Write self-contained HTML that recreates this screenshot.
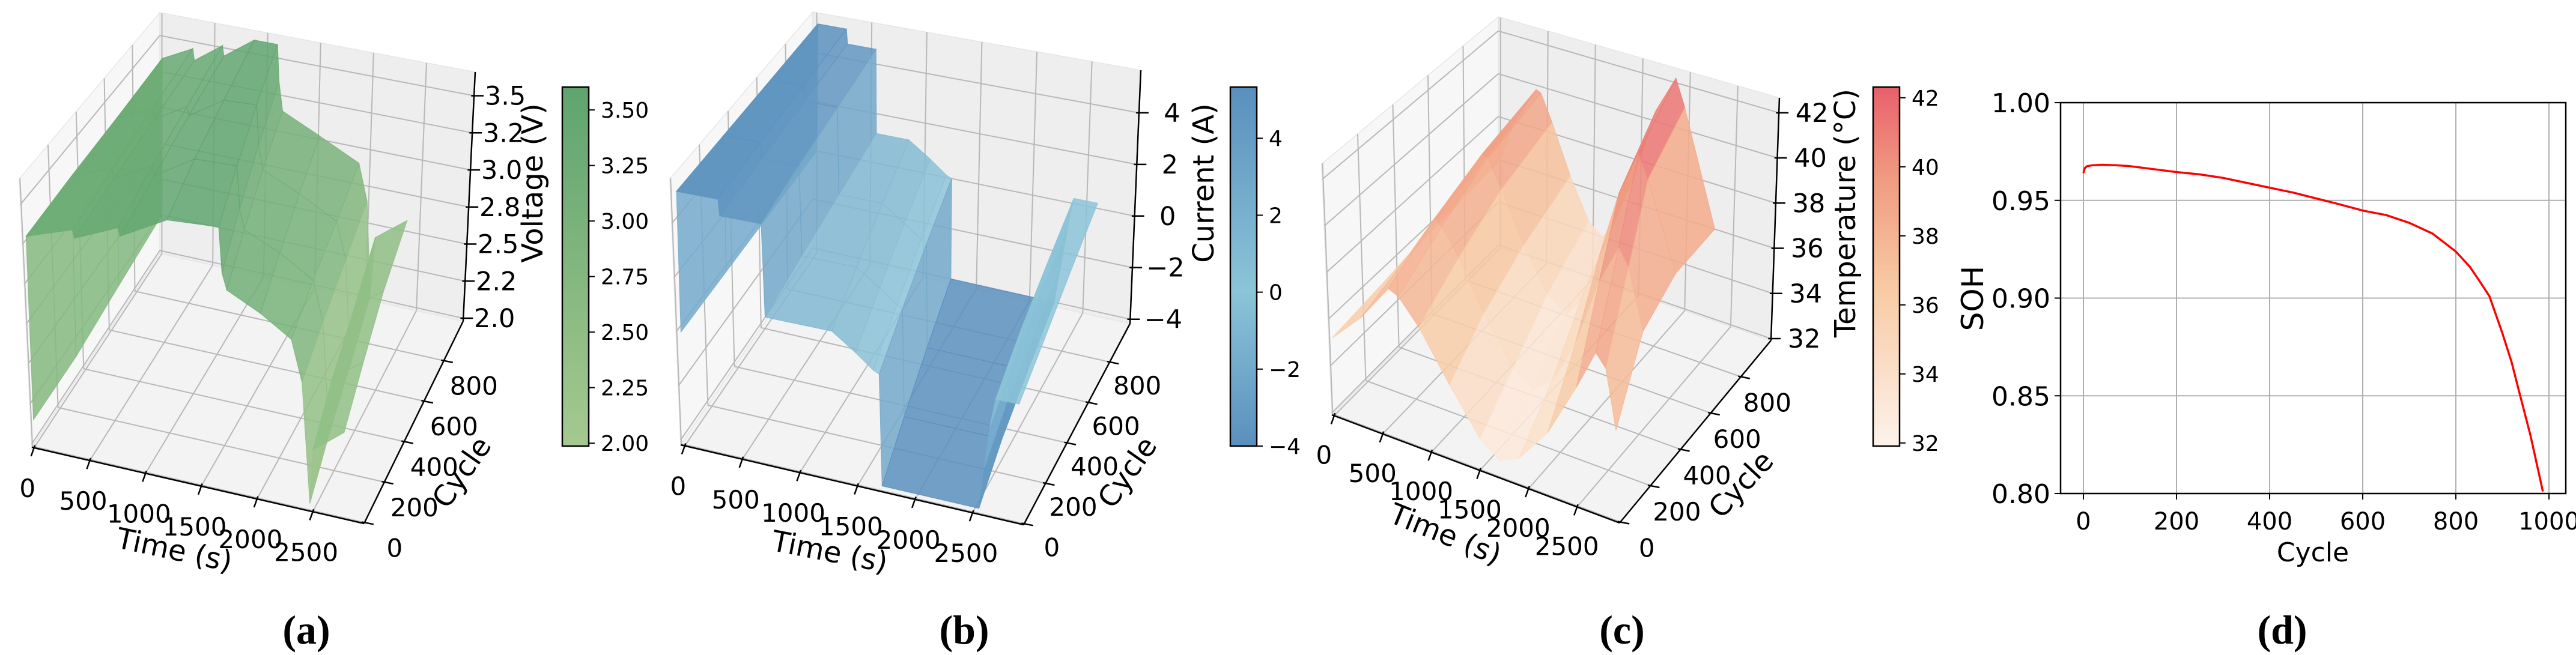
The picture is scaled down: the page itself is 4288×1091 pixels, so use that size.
<!DOCTYPE html>
<html><head><meta charset="utf-8"><title>Battery cycling data: voltage, current, temperature and SOH</title>
<style>
html,body{margin:0;padding:0;background:#fff;}
svg{display:block;}
text{font-family:"DejaVu Sans","Liberation Sans",sans-serif;fill:#000;}
.cap{font-family:"Liberation Serif",serif;font-weight:bold;}
</style></head>
<body>
<svg id="fig" xmlns="http://www.w3.org/2000/svg" width="4288" height="1091" viewBox="0 0 4288 1091">
<rect x="0" y="0" width="4288" height="1091" fill="#fff"/>
<defs>
<clipPath id="clipAB"><rect x="0" y="0" width="4288" height="964"/></clipPath>
</defs>
<g id="pa"></g>
<g id="pb"></g>
<g id="pc"></g>
<g id="pd"></g>
<text class="cap" x="510" y="1072" font-size="68" text-anchor="middle">(a)</text>
<text class="cap" x="1605" y="1072" font-size="68" text-anchor="middle">(b)</text>
<text class="cap" x="2700" y="1072" font-size="68" text-anchor="middle">(c)</text>
<text class="cap" x="3799" y="1072" font-size="68" text-anchor="middle">(d)</text>
</svg>
<script>
// ---------- data ----------
const cyclesA = [0, 330, 660, 990];
const timesA0 = [0,10,420,435,820,835,1250,1700,1720,1760,2050,2320,2410,2470,2500,2780];
const timesA1 = [0,10,380,395,740,755,1120,1500,1520,1560,1880,2180,2270,2330,2360,2640];
const timesA2 = [0,10,340,355,660,675,1000,1300,1320,1360,1700,2050,2140,2200,2230,2500];
const timesA3 = [0,10,300,315,580,595,880,1100,1120,1160,1520,1900,1990,2050,2080,2380];
const voltA0 = [2.15,3.30,3.40,3.35,3.47,3.42,3.58,3.60,3.32,3.22,3.12,3.00,2.75,2.02,2.35,2.50];
const voltA1 = [2.15,3.32,3.42,3.36,3.49,3.43,3.59,3.60,3.33,3.20,3.10,2.97,2.72,2.02,2.38,2.52];
const voltA2 = [2.20,3.33,3.44,3.37,3.50,3.44,3.59,3.60,3.34,3.18,3.07,2.94,2.70,2.02,2.40,2.55];
const voltA3 = [2.25,3.35,3.46,3.38,3.52,3.45,3.60,3.60,3.35,3.15,3.03,2.90,2.65,2.02,2.42,2.58];

const cyclesB = [0, 330, 660, 990];
const timesB0 = [0,10,360,370,720,730,1300,1500,1650,1700,1710,2550,2600,2650,2700,2900];
const timesB1 = [0,10,330,340,660,670,1150,1350,1500,1550,1560,2430,2480,2530,2580,2800];
const timesB2 = [0,10,300,310,600,610,1000,1200,1350,1400,1410,2330,2380,2430,2480,2700];
const timesB3 = [0,10,270,280,540,550,850,1050,1200,1250,1260,2230,2280,2330,2380,2600];
const currB0 = [0,5.2,5.2,4.6,4.6,1.2,1.2,0.6,0.1,0,-4.0,-4.0,-2.5,-1.0,0,0];
const currB1 = [0,5.2,5.2,4.6,4.6,1.2,1.2,0.6,0.1,0,-4.0,-4.0,-2.5,-1.0,0,0];
const currB2 = [0,5.2,5.2,4.6,4.6,1.2,1.2,0.6,0.1,0,-4.0,-4.0,-2.5,-1.0,0.1,0.1];
const currB3 = [0,5.2,5.2,4.6,4.6,1.2,1.2,0.6,0.1,0,-4.0,-4.0,-2.5,-1.0,0.2,0.2];

const cyclesC = [0, 330, 660, 1000];
const timesC0 = [0,300,600,700,900,1200,1500,1700,1900,2200,2500,2700,2800,2900];
const timesC1 = [0,250,500,580,750,1000,1300,1500,1700,1950,2200,2400,2500,2650];
const timesC2 = [0,200,420,480,620,850,1100,1300,1450,1650,1850,2050,2150,2450];
const timesC3 = [0,150,380,430,550,750,950,1100,1250,1450,1650,1850,1950,2300];
const tempC0 = [35.2,36.5,38.2,38.0,37.0,35.0,33.2,32.6,33.0,34.5,36.8,38.5,38.0,35.6];
const tempC1 = [35.5,37.0,38.8,38.6,37.5,35.4,33.5,32.9,33.5,35.5,38.5,40.2,39.5,37.0];
const tempC2 = [35.8,37.5,39.3,39.2,38.0,35.8,34.0,33.4,34.2,36.5,39.5,41.5,40.5,36.8];
const tempC3 = [36.0,38.0,39.8,39.7,38.5,36.3,34.5,34.0,35.0,37.5,40.5,42.2,41.0,36.0];

const timeTicks = [0,500,1000,1500,2000,2500];
const timeTickLabels = ['0','500','1000','1500','2000','2500'];
const cycleTicks = [0,200,400,600,800];
const cycleTickLabels = ['0','200','400','600','800'];
const voltTicks = [2.0,2.25,2.5,2.75,3.0,3.25,3.5];
const voltTickLabels = ['2.0','2.2','2.5','2.8','3.0','3.2','3.5'];
const voltCbTicks = [2.0,2.25,2.5,2.75,3.0,3.25,3.5];
const voltCbLabels = ['2.00','2.25','2.50','2.75','3.00','3.25','3.50'];
const currTicks = [-4,-2,0,2,4];
const currTickLabels = ['\u22124','\u22122','0','2','4'];
const tempTicks = [32,34,36,38,40,42];
const tempTickLabels = ['32','34','36','38','40','42'];

const sohCycles = [0,3,8,20,40,70,100,150,200,250,300,350,400,450,500,550,600,650,700,750,800,830,850,872,900,920,935,960,987];
const sohValues = [0.964,0.9665,0.9675,0.968,0.9682,0.968,0.9675,0.966,0.9645,0.9633,0.9615,0.959,0.9565,0.954,0.951,0.948,0.9448,0.9425,0.9385,0.933,0.9238,0.916,0.909,0.901,0.882,0.867,0.853,0.83,0.801];
const sohXTicks = [0,200,400,600,800,1000];
const sohYTicks = [0.80,0.85,0.90,0.95,1.00];
const sohYLabels = ['0.80','0.85','0.90','0.95','1.00'];

// ---------- helpers ----------
const NS='http://www.w3.org/2000/svg';
function mk(parent, tag, attrs, txt){
  const e=document.createElementNS(NS,tag);
  for(const k in attrs) e.setAttribute(k,attrs[k]);
  if(txt!==undefined) e.textContent=txt;
  parent.appendChild(e); return e;
}
function hex2rgb(h){return [parseInt(h.substr(1,2),16),parseInt(h.substr(3,2),16),parseInt(h.substr(5,2),16)];}
function cmapColor(stops,f){
  f=Math.max(0,Math.min(1,f));
  for(let i=0;i<stops.length-1;i++){
    const a=stops[i],b=stops[i+1];
    if(f<=b[0]){const k=(f-a[0])/(b[0]-a[0]||1);const ca=hex2rgb(a[1]),cb=hex2rgb(b[1]);
      return 'rgb('+ca.map((v,j)=>Math.round(v+(cb[j]-v)*k)).join(',')+')';}
  }
  return stops[stops.length-1][1];
}

function draw3D(cfg){
  const g=document.getElementById(cfg.id);
  const G=cfg.geom;
  const off=cfg.off;
  function proj(t,c,z){
    const u=(t-G.t0)/(G.t1-G.t0), w=(c-G.c0)/(G.c1-G.c0), h=(z-G.z0)/(G.z1-G.z0);
    const VB=[G.VA[0]+G.VC[0]-G.VD[0], G.VA[1]+G.VC[1]-G.VD[1]];
    const bl=(a,b,c2,d)=>[
      a[0]*(1-u)*(1-w)+b[0]*u*(1-w)+c2[0]*u*w+d[0]*(1-u)*w,
      a[1]*(1-u)*(1-w)+b[1]*u*(1-w)+c2[1]*u*w+d[1]*(1-u)*w];
    const f=bl(G.A,G.B,G.C,G.D), v=bl(G.VA,VB,G.VC,G.VD);
    return [off+f[0]+h*v[0], f[1]+h*v[1]];
  }
  const P=p=>p[0].toFixed(1)+','+p[1].toFixed(1);
  const floor=[proj(G.t0,G.c0,G.z0),proj(G.t1,G.c0,G.z0),proj(G.t1,G.c1,G.z0),proj(G.t0,G.c1,G.z0)];
  const back=[proj(G.t0,G.c1,G.z0),proj(G.t1,G.c1,G.z0),proj(G.t1,G.c1,G.z1),proj(G.t0,G.c1,G.z1)];
  const left=[proj(G.t0,G.c0,G.z0),proj(G.t0,G.c1,G.z0),proj(G.t0,G.c1,G.z1),proj(G.t0,G.c0,G.z1)];
  const pf=mk(g,'polygon',{points:floor.map(P).join(' '),fill:'#f3f3f3',stroke:'#e6e6e6','stroke-width':1.5});
  
  
  const pb=mk(g,'polygon',{points:back.map(P).join(' '),fill:'#eeeeee',stroke:'#e6e6e6','stroke-width':1.5});
  
  
  const pl=mk(g,'polygon',{points:left.map(P).join(' '),fill:'#f7f7f7',stroke:'#e6e6e6','stroke-width':1.5});
  
  
  const gl=(a,b)=>{const l=mk(g,'line',{x1:a[0],y1:a[1],x2:b[0],y2:b[1],stroke:'#b8b8b8','stroke-width':2});
    
    };
  timeTicks.forEach(t=>{gl(proj(t,G.c0,G.z0),proj(t,G.c1,G.z0));gl(proj(t,G.c1,G.z0),proj(t,G.c1,G.z1));});
  cycleTicks.forEach(c=>{gl(proj(G.t0,c,G.z0),proj(G.t1,c,G.z0));gl(proj(G.t0,c,G.z0),proj(G.t0,c,G.z1));});
  cfg.zTicks.forEach(z=>{gl(proj(G.t0,G.c1,z),proj(G.t1,G.c1,z));gl(proj(G.t0,G.c0,z),proj(G.t0,G.c1,z));});
  const rows=cfg.rows;
  for(let i=rows.length-2;i>=0;i--){
    const r0=rows[i],r1=rows[i+1];
    for(let j=0;j<r0.t.length-1;j++){
      const q=[proj(r0.t[j],r0.c,r0.v[j]),proj(r0.t[j+1],r0.c,r0.v[j+1]),proj(r1.t[j+1],r1.c,r1.v[j+1]),proj(r1.t[j],r1.c,r1.v[j])];
      const avg=(r0.v[j]+r0.v[j+1]+r1.v[j]+r1.v[j+1])/4;
      const col=cmapColor(cfg.cmap,(avg-cfg.cb.lo)/(cfg.cb.hi-cfg.cb.lo));
      const s=mk(g,'polygon',{points:q.map(P).join(' '),fill:col,stroke:col,'stroke-width':1.2,'fill-opacity':0.85,'stroke-opacity':0.85});
      
      
    }
  }
  const ax=(a,b,name)=>{const l=mk(g,'line',{x1:a[0],y1:a[1],x2:b[0],y2:b[1],stroke:'#000','stroke-width':2.5});
    
    };
  ax(proj(G.t0,G.c0,G.z0),proj(G.t1,G.c0,G.z0),'time-axis-line');
  ax(proj(G.t1,G.c0,G.z0),proj(G.t1,G.c1,G.z0),'cycle-axis-line');
  ax(proj(G.t1,G.c1,G.z0),proj(G.t1,G.c1,G.z1),'value-axis-line');
  const tk=(a,dx,dy)=>{const l=mk(g,'line',{x1:a[0]-dx*0.3,y1:a[1]-dy*0.3,x2:a[0]+dx,y2:a[1]+dy,stroke:'#000','stroke-width':2.5});
    
    };
  timeTicks.forEach((t,i)=>{const p=proj(t,G.c0,G.z0);tk(p,-5,14);
    const tx=mk(g,'text',{x:p[0]+cfg.tOff[0],y:p[1]+cfg.tOff[1],'font-size':42,'text-anchor':'middle'},timeTickLabels[i]);
    
    });
  cycleTicks.forEach((c,i)=>{const p=proj(G.t1,c,G.z0);tk(p,15,3);
    const tx=mk(g,'text',{x:p[0]+cfg.cOff[0],y:p[1]+cfg.cOff[1],'font-size':42,'text-anchor':'middle'},cycleTickLabels[i]);
    
    });
  cfg.zTicks.forEach((z,i)=>{const p=proj(G.t1,G.c1,z);tk(p,16,0);
    const tx=mk(g,'text',{x:p[0]+cfg.zOff,y:p[1]+15,'font-size':43,'text-anchor':'middle'},cfg.zLabels[i]);
    
    });
  const tl=mk(g,'text',{x:cfg.timeLab[0],y:cfg.timeLab[1],'font-size':48,'text-anchor':'middle',transform:'rotate('+cfg.timeLab[2]+' '+cfg.timeLab[0]+' '+cfg.timeLab[1]+')'},'Time (s)');
  if(cfg.clip) tl.setAttribute('clip-path','url(#clipAB)');
  
  
  const cl=mk(g,'text',{x:cfg.cycLab[0],y:cfg.cycLab[1],'font-size':48,'text-anchor':'middle',transform:'rotate('+cfg.cycLab[2]+' '+cfg.cycLab[0]+' '+cfg.cycLab[1]+')'},'Cycle');
  
  
  const zl=mk(g,'text',{x:cfg.zLab[0],y:cfg.zLab[1],'font-size':48,'text-anchor':'middle',transform:'rotate(-90 '+cfg.zLab[0]+' '+cfg.zLab[1]+')'},cfg.zName);
  
  
  const cb=cfg.cb;
  const gid='grad_'+cfg.id;
  const defs=mk(g,'defs',{});
  const lg=mk(defs,'linearGradient',{id:gid,x1:0,y1:1,x2:0,y2:0});
  cfg.cmap.forEach(s=>mk(lg,'stop',{offset:s[0],'stop-color':s[1]}));
  const cr=mk(g,'rect',{x:cb.x,y:cb.top,width:cb.w,height:cb.bot-cb.top,fill:'url(#'+gid+')',stroke:'#000','stroke-width':2.5});
  
  
  const cy=v=>cb.bot-(v-cb.lo)/(cb.hi-cb.lo)*(cb.bot-cb.top);
  cfg.cbTicks.forEach((v,i)=>{const y=cy(v);
    const l=mk(g,'line',{x1:cb.x+cb.w,y1:y,x2:cb.x+cb.w+10,y2:y,stroke:'#000','stroke-width':2});
    
    
    const tx=mk(g,'text',{x:cb.x+cb.w+20,y:y+13,'font-size':36},cfg.cbLabels[i]);
    
    });
}

draw3D({id:'pa',off:0,clip:true,
  geom:{A:[53,745],B:[606,872],C:[771,535],D:[266,422],VA:[-21,-447],VD:[0,-401],VC:[20,-415],t0:-20,t1:2960,c0:-5,c1:995,z0:1.98,z1:3.66},
  rows:[{c:cyclesA[0],t:timesA0,v:voltA0},{c:cyclesA[1],t:timesA1,v:voltA1},{c:cyclesA[2],t:timesA2,v:voltA2},{c:cyclesA[3],t:timesA3,v:voltA3}],
  cmap:[[0,'#a5c98f'],[1,'#5fa46e']],
  zTicks:voltTicks,zLabels:voltTickLabels,zOff:52,tOff:[-11,82],cOff:[50,57],
  timeLab:[287,932,12],cycLab:[782,796,-55],zLab:[903,305],zName:'Voltage (V)',
  cb:{x:936,w:44,top:145,bot:743,lo:1.987,hi:3.603},cbTicks:voltCbTicks,cbLabels:voltCbLabels});

draw3D({id:'pb',off:1080,clip:true,
  geom:{A:[53,741],B:[624,874],C:[801,539],D:[273,420],VA:[-18,-443],VD:[0,-400],VC:[18,-422],t0:-36,t1:2944,c0:-5,c1:990,z0:-4.17,z1:5.65},
  rows:[{c:cyclesB[0],t:timesB0,v:currB0},{c:cyclesB[1],t:timesB1,v:currB1},{c:cyclesB[2],t:timesB2,v:currB2},{c:cyclesB[3],t:timesB3,v:currB3}],
  cmap:[[0,'#5a8fbd'],[0.43,'#8cc4d8'],[1,'#5a8fbd']],
  zTicks:currTicks,zLabels:currTickLabels,zOff:55,tOff:[-11,82],cOff:[46,54],
  timeLab:[1378,935,11],cycLab:[1890,796,-55],zLab:[2020,305],zName:'Current (A)',
  cb:{x:2048,w:44,top:145,bot:743,lo:-4,hi:5.33},cbTicks:currTicks,cbLabels:currTickLabels});

draw3D({id:'pc',off:2150,clip:false,
  geom:{A:[67,691],B:[546,871],C:[798,567],D:[344,411],VA:[-17,-418],VD:[0,-383],VC:[14,-404],t0:-24,t1:2938,c0:-5,c1:1000,z0:31.92,z1:42.66},
  rows:[{c:cyclesC[0],t:timesC0,v:tempC0},{c:cyclesC[1],t:timesC1,v:tempC1},{c:cyclesC[2],t:timesC2,v:tempC2},{c:cyclesC[3],t:timesC3,v:tempC3}],
  cmap:[[0,'#fdf2ea'],[0.45,'#f7c9a2'],[0.75,'#f09a80'],[1,'#e8606c']],
  zTicks:tempTicks,zLabels:tempTickLabels,zOff:55,tOff:[-17,80],cOff:[44,58],
  timeLab:[2400,905,22],cycLab:[2910,818,-47],zLab:[3088,355],zName:'Temperature (\u00B0C)',
  cb:{x:3118,w:44,top:145,bot:743,lo:31.91,hi:42.31},cbTicks:tempTicks,cbLabels:tempTickLabels});

// ---------- panel d ----------
(function(){
  const g=document.getElementById('pd');
  const L=3430,R=4271,T=171,Bt=822;
  const sx=c=>3468+c*0.775;
  const sy=v=>T+(1-v)/0.2*(Bt-T);
  sohXTicks.forEach(c=>{const x=sx(c);
    const l=mk(g,'line',{x1:x,y1:T,x2:x,y2:Bt,stroke:'#b0b0b0','stroke-width':2});
    
    
    const k=mk(g,'line',{x1:x,y1:Bt,x2:x,y2:Bt+10,stroke:'#000','stroke-width':2});
    
    
    const t=mk(g,'text',{x:x,y:882,'font-size':40,'text-anchor':'middle'},String(c));
    
    });
  sohYTicks.forEach((v,i)=>{const y=sy(v);
    const l=mk(g,'line',{x1:L,y1:y,x2:R,y2:y,stroke:'#b0b0b0','stroke-width':2});
    
    
    const k=mk(g,'line',{x1:L-10,y1:y,x2:L,y2:y,stroke:'#000','stroke-width':2});
    
    
    const t=mk(g,'text',{x:L-17,y:y+16,'font-size':44,'text-anchor':'end'},sohYLabels[i]);
    
    });
  const pts=sohCycles.map((c,i)=>sx(c).toFixed(1)+','+sy(sohValues[i]).toFixed(1)).join(' ');
  const pl=mk(g,'polyline',{points:pts,fill:'none',stroke:'#ff0000','stroke-width':3.5,'stroke-linejoin':'round'});
  
  
  const fr=mk(g,'rect',{x:L,y:T,width:R-L,height:Bt-T,fill:'none',stroke:'#000','stroke-width':2.5});
  
  
  const xt=mk(g,'text',{x:3850,y:935,'font-size':44,'text-anchor':'middle'},'Cycle');
  
  
  const yt=mk(g,'text',{x:3301,y:497,'font-size':50,'text-anchor':'middle',transform:'rotate(-90 3301 497)'},'SOH');
  
  
})();
</script>
</body></html>
